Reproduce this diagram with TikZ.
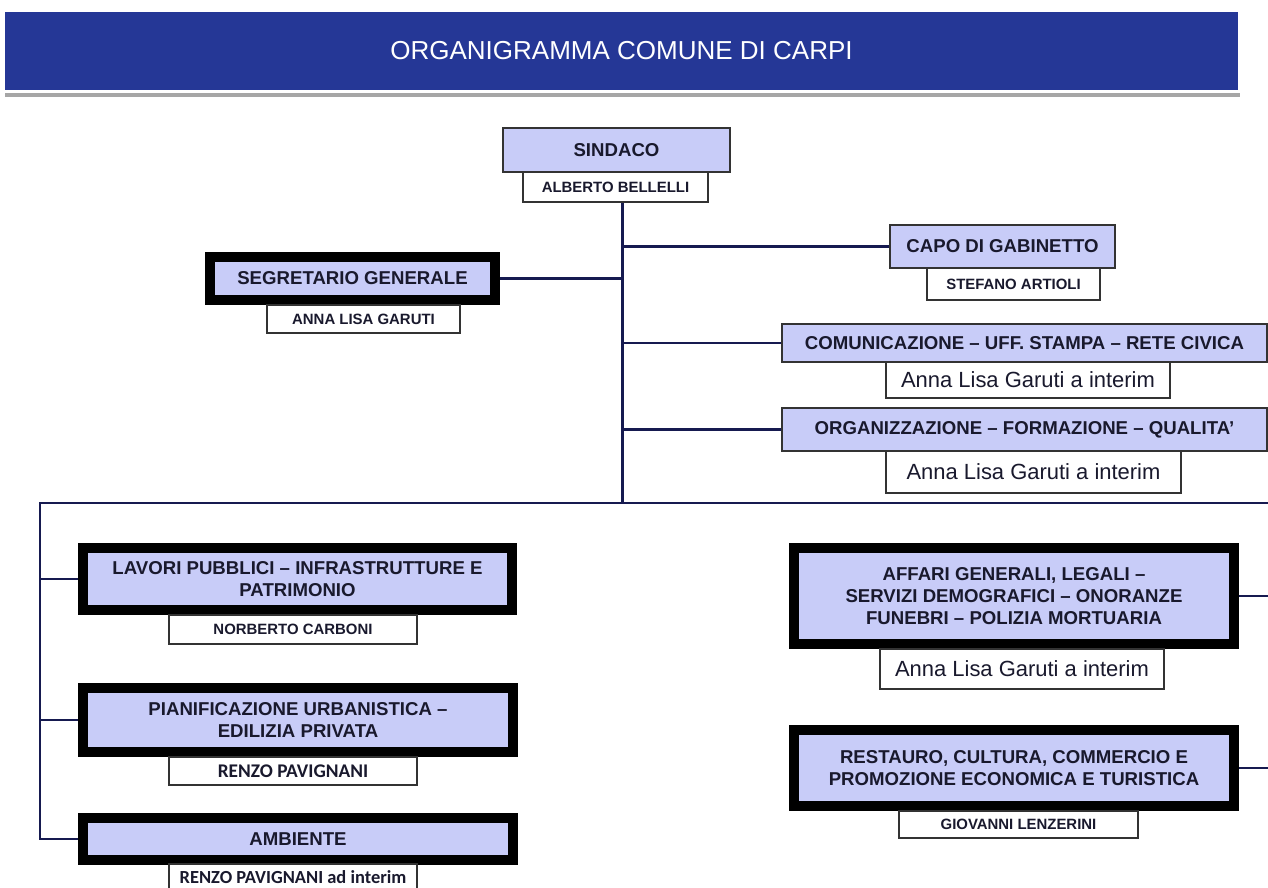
\documentclass[tikz,border=0pt]{standalone}
\usepackage{fontspec}
\setmainfont{Liberation Sans}
\newfontfamily\calibri{Carlito}
\usepackage{tikz}
\usetikzlibrary{calc}
\usetikzlibrary{positioning}
\definecolor{barblue}{RGB}{37,55,150}
\definecolor{lavender}{RGB}{200,204,248}
\definecolor{navy}{RGB}{22,26,80}
\definecolor{ink}{RGB}{25,25,45}
\tikzset{head/.style={rectangle,draw=black!80,line width=1pt,fill=lavender,text=ink,inner sep=0pt,align=center,font=\bfseries\fontsize{10.6}{12.6}\selectfont}}
\tikzset{unit/.style={rectangle,draw=black,line width=5.7pt,fill=lavender,text=ink,inner sep=0pt,align=center,font=\bfseries\fontsize{10.6}{12.6}\selectfont}}
\tikzset{person/.style={rectangle,draw=black!80,line width=0.8pt,fill=white,text=ink,inner sep=0pt,font=\bfseries\fontsize{8.5}{10}\selectfont}}
\tikzset{link/.style={draw=navy,line width=1.7pt}}

\begin{document}
\begin{tikzpicture}[x=0.02cm,y=-0.02cm]
\useasboundingbox (0,0) rectangle (1268,888);

\node[fill=barblue,minimum width=24.66cm,minimum height=1.56cm,text=white,font=\fontsize{14.8}{17}\selectfont] (title) at (621.5,51) {ORGANIGRAMMA COMUNE DI CARPI};
\draw[gray!70,line width=2pt] (5,95) -- (1240,95);

% vertice
\node[head,minimum width=4.54cm,minimum height=0.88cm] (sindaco) at (616.5,150) {SINDACO};
\node[person,minimum width=3.7cm,minimum height=0.6cm] (bellelli) at (615.5,187) {ALBERTO BELLELLI};

\node[unit,minimum width=5.7cm,minimum height=0.86cm] (segretario) at (352.5,278.5) {SEGRETARIO GENERALE};
\node[person,minimum width=3.86cm,minimum height=0.56cm] (garuti) at (363.5,319) {ANNA LISA GARUTI};

\node[head,minimum width=4.5cm,minimum height=0.86cm] (capo) at (1002.5,246.5) {CAPO DI GABINETTO};
\node[person,minimum width=3.46cm,minimum height=0.64cm] (artioli) at (1013.5,284) {STEFANO ARTIOLI};

\node[head,minimum width=9.7cm,minimum height=0.76cm] (comunic) at (1024.5,343) {COMUNICAZIONE -- UFF. STAMPA -- RETE CIVICA};
\node[person,font=\fontsize{12.5}{14}\selectfont,minimum width=5.68cm,minimum height=0.72cm] (comunicname) at (1028,380) {Anna Lisa Garuti a interim};

\node[head,minimum width=9.7cm,minimum height=0.86cm] (organiz) at (1024.5,429.5) {ORGANIZZAZIONE -- FORMAZIONE -- QUALITA'};
\node[person,font=\fontsize{12.5}{14}\selectfont,minimum width=5.9cm,minimum height=0.84cm] (organizname) at (1033.5,472) {Anna Lisa Garuti a interim};

% settori a sinistra
\node[unit,minimum width=8.58cm,minimum height=1.24cm] (lavori) at (297.5,579) {LAVORI PUBBLICI -- INFRASTRUTTURE E\\PATRIMONIO};
\node[person,minimum width=4.96cm,minimum height=0.58cm] (carboni) at (293,629.5) {NORBERTO CARBONI};

\node[unit,minimum width=8.6cm,minimum height=1.28cm] (pianif) at (298,720) {PIANIFICAZIONE URBANISTICA --\\EDILIZIA PRIVATA};
\node[person,font=\calibri\bfseries\fontsize{11}{13}\selectfont,minimum width=4.96cm,minimum height=0.56cm] (pavignani) at (293,771) {RENZO PAVIGNANI};

\node[unit,minimum width=8.6cm,minimum height=0.84cm] (ambiente) at (298,839) {AMBIENTE};
\node[person,font=\calibri\bfseries\fontsize{10.5}{12}\selectfont,minimum width=4.96cm,minimum height=0.52cm] (ambientename) at (293,877) {RENZO PAVIGNANI ad interim};

% settori a destra
\node[unit,minimum width=8.8cm,minimum height=1.92cm] (affari) at (1014,596) {AFFARI GENERALI, LEGALI --\\SERVIZI DEMOGRAFICI -- ONORANZE\\FUNEBRI -- POLIZIA MORTUARIA};
\node[person,font=\fontsize{12.5}{14}\selectfont,minimum width=5.68cm,minimum height=0.8cm] (affariname) at (1022,669) {Anna Lisa Garuti a interim};

\node[unit,minimum width=8.8cm,minimum height=1.52cm] (restauro) at (1014,768) {RESTAURO, CULTURA, COMMERCIO E\\PROMOZIONE ECONOMICA E TURISTICA};
\node[person,minimum width=4.78cm,minimum height=0.54cm] (lenzerini) at (1018.5,824.5) {GIOVANNI LENZERINI};

% collegamenti
\coordinate (hub) at (622,503);
\coordinate (leftend) at (40,503);
\coordinate (rightend) at (1268,503);
\draw[link] (bellelli.south -| hub) -- (hub);
\draw[link] (segretario.east) -- (segretario.east -| hub);
\draw[link] (capo.west) -- (capo.west -| hub);
\draw[link] (comunic.west) -- (comunic.west -| hub);
\draw[link] (organiz.west) -- (organiz.west -| hub);
\draw[link] (rightend) -- (leftend) -- (leftend |- ambiente.west) -- (ambiente.west);
\draw[link] (lavori.west -| leftend) -- (lavori.west);
\draw[link] (pianif.west -| leftend) -- (pianif.west);
\draw[link] (affari.east) -- (affari.east -| rightend);
\draw[link] (restauro.east) -- (restauro.east -| rightend);

\end{tikzpicture}
\end{document}
